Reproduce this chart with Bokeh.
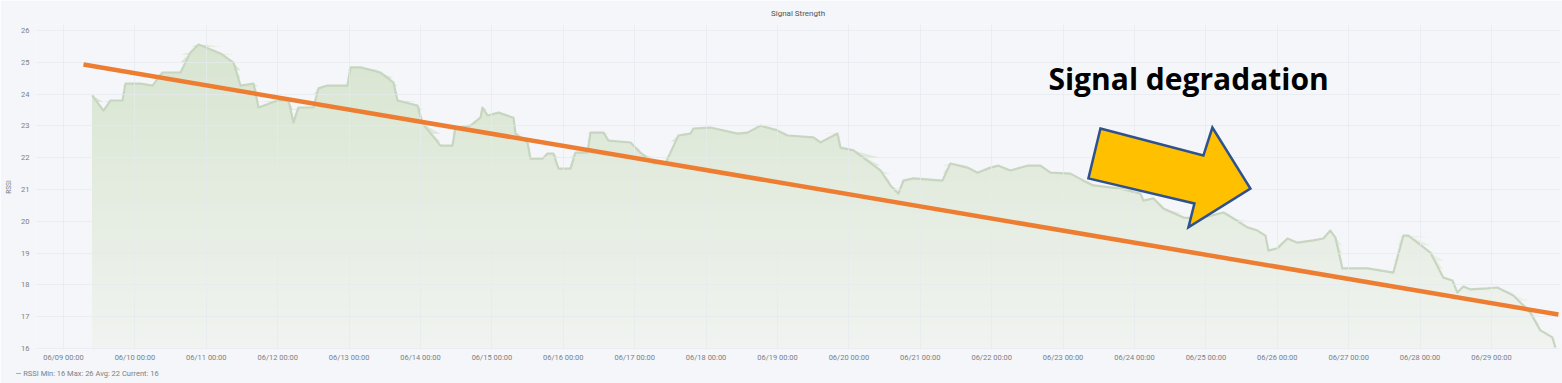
import numpy as np
import pandas as pd
from bokeh.plotting import figure
from bokeh.models import Range1d, FixedTicker, DatetimeTickFormatter, Title
from bokeh.core.properties import value
from bokeh.embed import file_html
from bokeh.resources import INLINE

YEAR = "2021"

# ---- series ----
times = [
    "06-09 09:39", "06-09 13:26", "06-09 15:48", "06-09 19:50", "06-09 20:50",
    "06-10 01:53", "06-10 05:55", "06-10 09:17", "06-10 15:20", "06-10 18:41", "06-10 21:23",
    "06-11 04:46", "06-11 09:08", "06-11 11:29", "06-11 15:52", "06-11 17:33", "06-11 23:56",
    "06-12 03:38", "06-12 05:18", "06-12 06:59", "06-12 12:02", "06-12 13:43", "06-12 16:44", "06-12 23:28",
    "06-13 00:28", "06-13 03:50", "06-13 10:33", "06-13 14:55", "06-13 16:16", "06-13 22:59",
    "06-14 00:40", "06-14 06:43", "06-14 10:45", "06-14 11:45", "06-14 16:48", "06-14 20:10", "06-14 20:50", "06-14 22:31",
    "06-15 02:13", "06-15 07:15", "06-15 07:56", "06-15 11:58", "06-15 12:58", "06-15 17:00", "06-15 18:41", "06-15 20:42", "06-15 22:23",
    "06-16 02:25", "06-16 04:05", "06-16 08:08", "06-16 09:08", "06-16 13:30", "06-16 15:11", "06-16 22:35",
    "06-17 01:56", "06-17 06:19", "06-17 10:20", "06-17 12:01", "06-17 14:43", "06-17 18:44", "06-17 19:45",
    "06-18 01:28", "06-18 10:32", "06-18 13:55", "06-18 18:17", "06-18 23:59",
    "06-19 03:21", "06-19 12:05", "06-19 14:26", "06-19 20:09", "06-19 21:10",
    "06-20 01:32", "06-20 10:36", "06-20 13:58", "06-20 16:39", "06-20 18:20", "06-20 21:42",
    "06-21 07:26", "06-21 10:08", "06-21 15:51", "06-21 19:13", "06-21 23:35",
    "06-22 02:16", "06-22 06:18", "06-22 12:01", "06-22 16:23", "06-22 19:45",
    "06-23 02:28", "06-23 06:50", "06-23 10:12", "06-23 19:17",
    "06-24 02:00", "06-24 03:01", "06-24 06:22", "06-24 09:44", "06-24 16:28", "06-24 22:10",
    "06-25 05:54", "06-25 09:16", "06-25 13:58", "06-25 17:20", "06-25 20:01", "06-25 21:02",
    "06-26 00:03", "06-26 03:25", "06-26 06:47", "06-26 12:08", "06-26 15:29", "06-26 17:51", "06-26 19:32", "06-26 21:53",
    "06-27 06:17", "06-27 15:02", "06-27 16:22", "06-27 18:23", "06-27 20:04",
    "06-28 03:28", "06-28 07:50", "06-28 10:52", "06-28 12:32", "06-28 14:33", "06-28 16:55", "06-28 22:37",
    "06-29 01:59", "06-29 07:22", "06-29 13:04", "06-29 16:26", "06-29 20:28", "06-29 21:29",
]
rssi = [
    23.96, 23.48, 23.80, 23.80, 24.33,
    24.33, 24.27, 24.68, 24.68, 25.31, 25.56,
    25.28, 24.99, 24.27, 24.33, 23.58, 23.80,
    23.80, 23.11, 23.58, 23.58, 24.18, 24.27, 24.27,
    24.84, 24.84, 24.68, 24.36, 23.80, 23.64,
    23.08, 22.38, 22.38, 22.95, 23.01, 23.26, 23.58, 23.33,
    23.42, 23.26, 22.76, 22.48, 21.97, 21.97, 22.13, 22.13, 21.66,
    21.66, 22.16, 22.16, 22.79, 22.79, 22.54, 22.48,
    22.16, 21.82, 21.82, 22.16, 22.70, 22.76, 22.92,
    22.95, 22.76, 22.79, 23.01, 22.86,
    22.70, 22.64, 22.48, 22.76, 22.32,
    22.23, 21.60, 21.13, 20.87, 21.28, 21.35,
    21.28, 21.82, 21.69, 21.53, 21.69,
    21.75, 21.60, 21.75, 21.75, 21.53,
    21.50, 21.28, 21.13, 21.03,
    20.87, 20.65, 20.72, 20.40, 20.12, 20.09,
    20.28, 20.09, 19.81, 19.71, 19.55, 19.08,
    19.15, 19.46, 19.33, 19.40, 19.46, 19.71, 19.49, 18.52,
    18.52, 18.39, 18.86, 19.55, 19.55,
    19.02, 18.23, 18.14, 17.76, 17.95, 17.86, 17.89,
    17.92, 17.67, 17.13, 16.57, 16.35, 16.03,
]

series_name = "RSSI"
legend_text = "\u2014  RSSI  Min: 16  Max: 26  Avg: 22  Current: 16"
title_text = "Signal Strength"

tick_days = ["06-%02d 00:00" % d for d in range(9, 30)]
y_ticks = [16, 17, 18, 19, 20, 21, 22, 23, 24, 25, 26]

x_start, x_end = "06-08 14:35", "06-29 23:12"
y_start, y_end = 15.97, 26.19

# overlay annotation (in data coordinates)
trend_times = ["06-09 06:43", "06-29 22:30"]
trend_vals = [24.93, 17.07]
arrow_times = ["06-23 12:33", "06-24 23:10", "06-25 02:11", "06-25 14:58",
               "06-24 18:08", "06-24 20:09", "06-23 08:31"]
arrow_vals = [22.92, 22.07, 22.95, 21.03, 19.81, 20.56, 21.35]
note_time = ["06-22 19:04"]
note_val = [24.49]
note_text = ["Signal degradation"]


def dt(lst):
    return pd.to_datetime([YEAR + "-" + s for s in lst])


x = dt(times)
y = np.array(rssi)

BG = "#f4f6f9"
p = figure(width=1562, height=383, output_backend="svg", toolbar_location=None,
           x_axis_type="datetime",
           x_range=Range1d(dt([x_start])[0], dt([x_end])[0]),
           y_range=Range1d(y_start, y_end),
           min_border_left=35, min_border_right=2, min_border_top=24, min_border_bottom=34)
p.background_fill_color = BG
p.border_fill_color = BG
p.outline_line_color = None

# gradient-like fill via stacked bands
top_c = np.array([214, 228, 206])
bot_c = np.array([240, 243, 240])
levels = np.linspace(16.0, 26.0, 41)[:-1]
for i, lo in enumerate(levels):
    t = (lo - 16.0) / 10.0
    c = bot_c + (top_c - bot_c) * t
    col = "#%02x%02x%02x" % tuple(int(round(v)) for v in c)
    base = y_start if i == 0 else lo
    p.varea(x=x, y1=np.full_like(y, base), y2=np.maximum(y, base), fill_color=col, fill_alpha=1.0)

line_r = p.line(x, y, line_color="#c8d5c0", line_width=2.2, line_join="round")

# annotation overlay
tr = p.line(dt(trend_times), trend_vals, line_color="#ed7d31", line_width=4.5)
tr.level = "overlay"
ar = p.patch(dt(arrow_times), arrow_vals, fill_color="#ffc000", line_color="#2f528f", line_width=2.5,
             line_join="miter")
ar.level = "overlay"
tx = p.text(x=dt(note_time), y=note_val, text=note_text, text_font=value("Open Sans"),
            text_font_style="bold", text_font_size="30px", text_color="#000000",
            text_baseline="middle", text_align="left")
tx.level = "overlay"

# axes
tick_ms = [t.value / 1e6 for t in dt(tick_days)]
p.xaxis.ticker = FixedTicker(ticks=tick_ms)
fmt = "%m/%d %H:%M"
p.xaxis.formatter = DatetimeTickFormatter(milliseconds=fmt, seconds=fmt, minsec=fmt, minutes=fmt,
                                          hourmin=fmt, hours=fmt, days=fmt, months=fmt, years=fmt)
p.yaxis.ticker = FixedTicker(ticks=y_ticks)
for ax in (p.xaxis[0], p.yaxis[0]):
    ax.axis_line_color = None
    ax.major_tick_line_color = None
    ax.minor_tick_line_color = None
    ax.major_tick_out = 0
    ax.major_tick_in = 0
    ax.minor_tick_out = 0
    ax.minor_tick_in = 0
    ax.major_label_text_font = "Roboto"
    ax.major_label_text_font_size = "7.5px"
    ax.major_label_text_color = "#7b7f86"
p.xaxis.major_label_standoff = 3
p.yaxis.major_label_standoff = 6
p.yaxis.axis_label = series_name
p.yaxis.axis_label_text_font = "Roboto"
p.yaxis.axis_label_text_font_size = "6.5px"
p.yaxis.axis_label_text_font_style = "normal"
p.yaxis.axis_label_text_color = "#7b7f86"
p.yaxis.axis_label_standoff = 5

p.xgrid.ticker = FixedTicker(ticks=tick_ms)
p.ygrid.ticker = FixedTicker(ticks=y_ticks)
p.grid.grid_line_color = "#e6e9ee"
p.grid.grid_line_alpha = 0.7
p.grid.grid_line_width = 1
p.xgrid.level = "guide"
p.ygrid.level = "guide"

p.title = Title(text=title_text, align="center", text_font="Roboto", text_font_size="8px",
                text_font_style="normal", text_color="#50545c", standoff=13)

p.add_layout(Title(text=legend_text, align="left", offset=-20, text_font="Roboto",
                   text_font_size="7.5px", text_font_style="normal", text_color="#7b7f86",
                   standoff=4), "below")

open("out.html", "w").write(file_html(p, INLINE))
